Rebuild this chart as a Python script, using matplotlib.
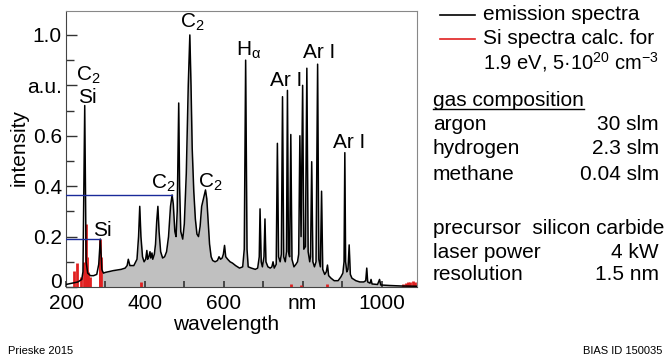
import matplotlib
matplotlib.use("Agg")
import matplotlib.pyplot as plt
from matplotlib.lines import Line2D
from matplotlib.transforms import ScaledTranslation
import numpy as np

plt.rcParams['font.family'] = ['Liberation Sans', 'DejaVu Sans']
plt.rcParams['mathtext.fontset'] = 'custom'
plt.rcParams['mathtext.rm'] = 'Liberation Sans'
plt.rcParams['mathtext.it'] = 'Liberation Sans'
plt.rcParams['mathtext.bf'] = 'Liberation Sans:bold'

# ---- emission spectrum (outline vertices) ----
wavelength = [200, 230, 240, 243, 247.5, 251, 255, 262, 270, 278, 283, 287, 291, 292, 295,
              300, 320, 340, 350, 355, 358, 362, 372, 380, 384, 387, 390, 394, 398, 402,
              405, 407, 410, 413, 415, 418, 420, 424, 427, 430, 433, 436, 440, 445, 450,
              455, 460, 465, 469, 472, 476, 479, 482, 485.8, 488, 491, 496, 500, 505, 510,
              514, 517, 520, 524, 528, 532, 536, 540, 544, 547, 550, 553.7, 557, 560, 564,
              568, 572, 578, 584, 588, 592, 596, 599, 602, 605, 610, 616, 622, 630, 640,
              648, 652, 655.5, 659, 662, 670, 680, 686, 690, 692, 695, 698, 702, 704.5, 707,
              712, 718, 722, 725, 728, 733, 736, 739, 743, 746, 749, 752, 756, 759, 761.5,
              764, 767, 770, 773, 778, 783, 787, 790, 793, 796, 800, 803, 807, 810.7, 814,
              818, 820, 823, 826, 830, 834, 838, 841, 845, 848, 851, 856, 860, 863, 866,
              872, 880, 890, 897, 902, 905, 907, 909, 912, 915, 918, 921, 925, 935, 945,
              955, 960, 962.6, 965, 971, 973.5, 976, 990, 995, 998, 1020, 1050, 1090]
intensity = [0.01, 0.02, 0.03, 0.06, 0.72, 0.10, 0.055, 0.045, 0.045, 0.05, 0.09, 0.19, 0.07, 0.065, 0.055,
             0.058, 0.065, 0.07, 0.075, 0.085, 0.11, 0.085, 0.085, 0.11, 0.20, 0.32, 0.20, 0.12, 0.10, 0.11,
             0.145, 0.11, 0.12, 0.14, 0.115, 0.135, 0.11, 0.13, 0.17, 0.26, 0.32, 0.22, 0.14, 0.115, 0.12,
             0.14, 0.20, 0.32, 0.365, 0.33, 0.22, 0.20, 0.30, 0.73, 0.40, 0.22, 0.19, 0.25, 0.45, 0.80,
             1.00, 0.80, 0.55, 0.38, 0.27, 0.21, 0.20, 0.24, 0.32, 0.34, 0.36, 0.385, 0.35, 0.27, 0.17,
             0.12, 0.105, 0.10, 0.105, 0.12, 0.11, 0.115, 0.13, 0.165, 0.12, 0.11, 0.10, 0.095, 0.085, 0.075,
             0.08, 0.15, 0.90, 0.15, 0.08, 0.075, 0.07, 0.075, 0.12, 0.31, 0.10, 0.08, 0.12, 0.27, 0.10,
             0.08, 0.075, 0.08, 0.10, 0.075, 0.09, 0.57, 0.12, 0.10, 0.13, 0.755, 0.12, 0.10, 0.14, 0.78,
             0.14, 0.12, 0.605, 0.11, 0.08, 0.09, 0.10, 0.13, 0.60, 0.20, 0.80, 0.15, 0.16, 0.868, 0.14,
             0.10, 0.12, 0.497, 0.10, 0.08, 0.10, 0.884, 0.11, 0.08, 0.38, 0.07, 0.05, 0.06, 0.087, 0.045,
             0.035, 0.025, 0.025, 0.04, 0.055, 0.10, 0.533, 0.10, 0.06, 0.07, 0.167, 0.05, 0.035, 0.025, 0.02,
             0.02, 0.025, 0.075, 0.02, 0.015, 0.03, 0.012, 0.01, 0.03, 0.008, 0.006, 0.004, 0.003]

# ---- calculated Si lines ----
si_wavelength = [221, 229, 238, 245, 251, 253, 257, 262, 285, 287, 289, 390,
                 770, 795, 863, 1055, 1062, 1068, 1073, 1079, 1085]
si_intensity = [0.065, 0.095, 0.04, 0.10, 0.25, 0.12, 0.06, 0.04, 0.10, 0.19, 0.12, 0.02,
                0.01, 0.008, 0.01, 0.01, 0.015, 0.02, 0.02, 0.025, 0.02]

# reference levels (blue lines)
ref_levels = [0.365, 0.19]
ref_ends = [470, 287]

x_ticks = [200, 400, 600, 800, 1000]
x_ticklabels = ['200', '400', '600', 'nm', '1000']
y_ticks = [0, 0.2, 0.4, 0.6, 0.8, 1.0]
y_ticklabels = ['0', '0.2', '0.4', '0.6', 'a.u.', '1.0']

W, H = 670, 360
fig = plt.figure(figsize=(6.7, 3.6), dpi=100)
ax = fig.add_axes([66 / W, 1 - 287 / H, (417 - 66) / W, (287 - 11) / H])

wl = np.array(wavelength)
it = np.array(intensity)
ax.fill_between(wl, 0, it, where=wl >= 292, color='#c0c0c0', lw=0, zorder=1)
ax.vlines(si_wavelength, 0, si_intensity, color='#e02020', lw=2.0, zorder=2)
ax.plot(wl, it, color='black', lw=1.1, zorder=3)
for lvl, end in zip(ref_levels, ref_ends):
    ax.plot([200, end], [lvl, lvl], color='#1a2a9a', lw=1.0, zorder=4)

ax.set_xlim(200, 1090)
ax.set_ylim(0, 1.095)
ax.set_xticks(x_ticks)
ax.set_xticklabels(x_ticklabels)
ax.set_xticks([300, 500, 700, 900], minor=True)
ax.set_yticks(y_ticks)
ax.set_yticklabels(y_ticklabels)
ax.set_yticks([0.1, 0.3, 0.5, 0.7, 0.9], minor=True)
ax.tick_params(axis='y', which='major', direction='in', length=8, width=1, labelsize=15, pad=3, color='#333333')
ax.tick_params(axis='y', which='minor', direction='in', length=6, width=1, color='#333333')
ax.tick_params(axis='x', which='both', direction='in', length=4, width=1.2, labelsize=15, pad=5, color='#333333')
for s in ['left', 'bottom']:
    ax.spines[s].set_color('#444444')
for s in ['top', 'right']:
    ax.spines[s].set_color('#888888')

# lift the "0" label a little so it clears the "200" label
zero_lbl = ax.get_yticklabels()[0]
zero_lbl.set_transform(zero_lbl.get_transform() + ScaledTranslation(0, 6 / 100, fig.dpi_scale_trans))

fs = 15
# annotations
ax.text(256, 0.84, r'C$_2$', fontsize=fs, ha='center', va='center')
ax.text(253, 0.75, 'Si', fontsize=fs, ha='center', va='center')
ax.text(520, 1.048, r'C$_2$', fontsize=fs, ha='center', va='center')
ax.text(447, 0.413, r'C$_2$', fontsize=fs, ha='center', va='center')
ax.text(566, 0.417, r'C$_2$', fontsize=fs, ha='center', va='center')
ax.text(291, 0.226, 'Si', fontsize=fs, ha='center', va='center')
ax.text(663, 0.94, r'H$_\mathrm{α}$', fontsize=fs, ha='center', va='center')
ax.text(757, 0.82, 'Ar I', fontsize=fs, ha='center', va='center')
ax.text(841, 0.93, 'Ar I', fontsize=fs, ha='center', va='center')
ax.text(918, 0.575, 'Ar I', fontsize=fs, ha='center', va='center')

def fx(px):
    return px / W

def fy(py):
    return 1 - py / H

fig.text(fx(19), fy(147), 'intensity', rotation=90, fontsize=fs, ha='center', va='center')
fig.text(fx(226), fy(324), 'wavelength', fontsize=fs, ha='center', va='center')

# legend
fig.add_artist(Line2D([fx(440), fx(475)], [fy(15), fy(15)], color='black', lw=1.2))
fig.add_artist(Line2D([fx(440), fx(475)], [fy(39), fy(39)], color='#e02020', lw=1.2))
fig.text(fx(483), fy(15), 'emission spectra', fontsize=fs, va='center')
fig.text(fx(483), fy(39), 'Si spectra calc. for', fontsize=fs, va='center')
fig.text(fx(483), fy(62), r'1.9 eV, 5·10$^{20}$ cm$^{-3}$', fontsize=14.5, va='center')

# info block
t = fig.text(fx(433), fy(100), 'gas composition', fontsize=fs, va='center')
rows = [('argon', '30 slm', 125), ('hydrogen', '2.3 slm', 149), ('methane', '0.04 slm', 174),
        ('laser power', '4 kW', 252), ('resolution', '1.5 nm', 275)]
for name, val, py in rows:
    fig.text(fx(433), fy(py), name, fontsize=fs, va='center')
    fig.text(fx(659), fy(py), val, fontsize=fs, va='center', ha='right')
fig.text(fx(433), fy(229), 'precursor  silicon carbide', fontsize=fs, va='center')

fig.canvas.draw()
bb = t.get_window_extent(renderer=fig.canvas.get_renderer())
uy = bb.y0 + 1
fig.add_artist(Line2D([bb.x0 / W, bb.x1 / W], [uy / H, uy / H], color='black', lw=1.0))

fig.text(fx(8), fy(351), 'Prieske 2015', fontsize=8, va='center')
fig.text(fx(662), fy(351), 'BIAS ID 150035', fontsize=8, va='center', ha='right')

fig.savefig('out.png', dpi=100)
